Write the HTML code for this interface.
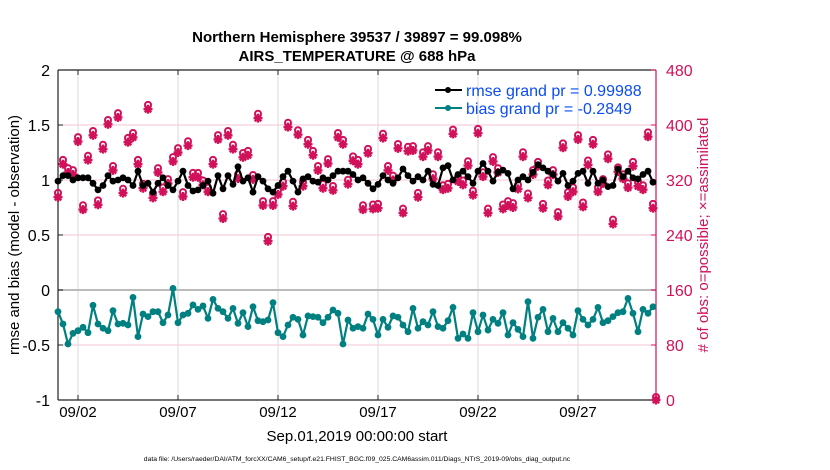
<!DOCTYPE html>
<html><head><meta charset="utf-8">
<style>
body{margin:0;background:#fff;}
svg{display:block;font-family:"Liberation Sans",Arial,sans-serif;}
</style></head>
<body>
<svg id="chart" width="830" height="470" viewBox="0 0 830 470" xmlns="http://www.w3.org/2000/svg">
<rect width="830" height="470" fill="#fff"/>
<g id="grid"></g>
<g id="axes"></g>
<g id="series"></g>
<text x="357" y="42" text-anchor="middle" font-size="15" font-weight="bold">Northern Hemisphere 39537 / 39897 = 99.098%</text>
<text x="357" y="61" text-anchor="middle" font-size="15" font-weight="bold">AIRS_TEMPERATURE @ 688 hPa</text>
<text x="357" y="441" text-anchor="middle" font-size="15">Sep.01,2019 00:00:00 start</text>
<text x="357" y="461" text-anchor="middle" font-size="6.8">data file: /Users/raeder/DAI/ATM_forcXX/CAM6_setup/f.e21.FHIST_BGC.f09_025.CAM6assim.011/Diags_NTrS_2019-09/obs_diag_output.nc</text>
<text transform="translate(19,235) rotate(-90)" text-anchor="middle" font-size="15">rmse and bias (model - observation)</text>
<text transform="translate(708,235) rotate(-90)" text-anchor="middle" font-size="15" fill="#d1115a"># of obs: o=possible; ×=assimilated</text>
<g>
  <line x1="435" y1="90" x2="462" y2="90" stroke="#000" stroke-width="2"/>
  <circle cx="448" cy="90" r="3" fill="#000"/>
  <text x="466" y="96" font-size="16" fill="#0a4cf5">rmse grand pr = 0.99988</text>
  <line x1="435" y1="108" x2="462" y2="108" stroke="#008080" stroke-width="2"/>
  <circle cx="448" cy="108" r="3" fill="#008080"/>
  <text x="466" y="114" font-size="16" fill="#0a4cf5">bias grand pr = -0.2849</text>
</g>
</svg>
<script>
const rmse=[0.99,1.04,1.04,1.00,1.02,1.02,1.02,0.97,0.91,0.95,1.04,0.99,1.00,1.02,1.00,0.95,1.08,0.95,0.97,0.89,0.97,1.02,0.95,0.91,0.99,1.08,0.95,0.90,0.91,0.95,0.99,
0.88,1.04,0.92,1.04,0.96,1.12,0.99,1.02,0.89,1.03,0.99,0.92,0.89,0.95,1.03,1.08,0.99,0.89,1.01,1.03,0.99,0.98,1.02,1.00,1.04,1.08,1.08,1.08,1.05,1.00,
1.02,0.97,0.92,0.96,1.04,1.00,0.97,1.02,1.10,1.04,0.99,1.03,1.00,1.08,0.96,0.95,1.11,1.13,1.00,1.05,1.08,1.03,0.97,1.08,1.15,1.08,0.99,1.07,1.09,1.06,
0.92,1.00,1.03,1.00,1.07,1.14,1.11,1.08,1.05,0.99,1.06,0.95,0.99,1.06,1.08,0.97,1.08,0.97,1.00,0.94,0.95,1.10,1.03,1.08,1.02,1.01,1.05,1.08,0.98];
const bias=[-0.197,-0.309,-0.491,-0.394,-0.370,-0.339,-0.388,-0.139,-0.309,-0.348,-0.370,-0.188,-0.309,-0.303,-0.318,-0.067,-0.424,-0.218,-0.242,-0.197,-0.197,-0.297,-0.227,0.015,-0.297,-0.227,-0.212,-0.136,-0.176,-0.145,-0.258,-0.085,-0.167,-0.197,-0.258,-0.167,-0.303,-0.206,-0.333,-0.152,-0.279,-0.288,-0.273,-0.115,-0.388,-0.424,-0.318,-0.248,-0.267,-0.409,-0.236,-0.242,-0.248,-0.297,-0.248,-0.182,-0.212,-0.491,-0.273,-0.348,
-0.333,-0.348,-0.218,-0.267,-0.409,-0.267,-0.339,-0.236,-0.248,-0.318,-0.379,-0.167,-0.348,-0.288,-0.318,-0.197,-0.333,-0.348,-0.279,-0.158,-0.439,-0.400,-0.439,-0.206,-0.379,-0.227,-0.364,-0.267,-0.303,-0.206,-0.409,-0.297,-0.358,-0.424,-0.106,-0.439,-0.248,-0.176,-0.379,-0.258,-0.379,-0.297,-0.348,-0.409,-0.188,-0.267,-0.318,-0.267,-0.158,-0.297,-0.279,-0.242,-0.206,-0.197,-0.076,-0.212,-0.379,-0.176,-0.212,-0.152];
const possible=[297,345,333,330,378,279,351,387,286,367,403,336,413,303,377,384,345,310,425,296,333,305,317,349,362,298,372,326,326,315,305,
345,381,266,387,367,324,355,358,323,412,285,233,285,301,313,399,284,388,313,374,358,336,310,346,307,384,374,316,350,345,
279,361,280,281,383,336,322,368,274,364,365,297,356,365,324,356,308,310,389,320,315,343,300,390,327,274,349,333,280,285,
282,309,356,296,330,342,281,315,330,269,369,298,305,381,283,344,374,305,317,353,258,334,324,311,342,313,308,385,281,0];
const assimilated=[295,343,331,328,376,277,349,385,284,365,401,334,411,301,375,382,343,308,423,294,331,303,315,347,360,296,370,324,324,313,303,
343,379,264,385,365,322,353,356,321,410,283,231,283,299,311,397,282,386,311,372,356,334,308,344,305,382,372,314,348,343,
277,359,278,279,381,334,320,366,272,362,363,295,354,363,322,354,306,308,387,318,313,341,298,388,325,272,347,331,278,283,
280,307,354,294,328,340,279,313,328,267,367,296,303,379,281,342,372,303,315,351,256,332,322,309,340,311,306,383,279,0];
const leftTicks=[-1,-0.5,0,0.5,1,1.5,2];
const leftTickLabels=["-1","-0.5","0","0.5","1","1.5","2"];
const rightTicks=[0,80,160,240,320,400,480];
const dayTicks=[1,6,11,16,21,26];
const dayLabels=["09/02","09/07","09/12","09/17","09/22","09/27"];
const stepDays=0.25;

const NS="http://www.w3.org/2000/svg";
const X0=58,X1=656,Y0=70,Y1=400;
function xs(t){return Math.min(X1,X0+t*20);}
function yl(v){return Y1-(v+1)*(Y1-Y0)/3;}
function yr(c){return Y1-c*(Y1-Y0)/480;}
function mk(tag,attrs,parent){const e=document.createElementNS(NS,tag);for(const k in attrs)e.setAttribute(k,attrs[k]);parent.appendChild(e);return e;}
const grid=document.getElementById('grid'),axes=document.getElementById('axes'),ser=document.getElementById('series');
const PINK="#d1115a";
rightTicks.forEach(c=>{ if(c>0&&c<480&&c!==160){const l=mk('line',{x1:X0,x2:X1,y1:yr(c),y2:yr(c),stroke:'#f4c6d6','stroke-width':1},grid);

}});
dayTicks.forEach((d,i)=>{const l=mk('line',{x1:xs(d),x2:xs(d),y1:Y0,y2:Y1,stroke:'#d8d8d8','stroke-width':1},grid);


const tl=mk('line',{x1:xs(d),x2:xs(d),y1:Y0,y2:Y0+5,stroke:'#222'},axes);


const bl=mk('line',{x1:xs(d),x2:xs(d),y1:Y1,y2:Y1-5,stroke:'#222'},axes);


const t=mk('text',{x:xs(d),y:417,'text-anchor':'middle','font-size':15},axes);t.textContent=dayLabels[i];

});
const zl=mk('line',{x1:X0,x2:X1,y1:yl(0),y2:yl(0),stroke:'#bbb','stroke-width':2},grid);


[[X0,Y0,X1,Y0,'#222'],[X0,Y1,X1,Y1,'#222'],[X0,Y0,X0,Y1,'#222'],[X1,Y0,X1,Y1,PINK]].forEach(a=>{const l=mk('line',{x1:a[0],y1:a[1],x2:a[2],y2:a[3],stroke:a[4],'stroke-width':1.2},axes);

});
leftTicks.forEach((v,i)=>{const l=mk('line',{x1:X0,x2:X0+5,y1:yl(v),y2:yl(v),stroke:'#222'},axes);


const t=mk('text',{x:50,y:yl(v)+6,'text-anchor':'end','font-size':16},axes);t.textContent=leftTickLabels[i];

});
rightTicks.forEach(c=>{const l=mk('line',{x1:X1,x2:X1-5,y1:yr(c),y2:yr(c),stroke:PINK},axes);


const t=mk('text',{x:666,y:yr(c)+6,'font-size':16,fill:PINK},axes);t.textContent=String(c);

});
possible.forEach((c,i)=>{const x=xs(i*stepDays),y=yr(c)-3;
const o=mk('circle',{cx:x,cy:y,r:3,fill:'none',stroke:PINK,'stroke-width':2},ser);

});
assimilated.forEach((c,i)=>{const x=xs(i*stepDays),y=yr(c);
const g=mk('g',{stroke:PINK,'stroke-width':2.4},ser);


mk('line',{x1:x-4.5,x2:x+4.5,y1:y,y2:y},g);mk('line',{x1:x,x2:x,y1:y-4.5,y2:y+4.5},g);
mk('line',{x1:x-3.2,x2:x+3.2,y1:y-3.2,y2:y+3.2},g);mk('line',{x1:x-3.2,x2:x+3.2,y1:y+3.2,y2:y-3.2},g);});
function drawSeries(vals,color,name){
 const pts=vals.map((v,i)=>xs(i*stepDays)+','+yl(v)).join(' ');
 const pl=mk('polyline',{points:pts,fill:'none',stroke:color,'stroke-width':2.2},ser);
 
 
 vals.forEach((v,i)=>{const c=mk('circle',{cx:xs(i*stepDays),cy:yl(v),r:3.4,fill:color},ser);
 
 });
}
drawSeries(rmse,'#000','rmse');
drawSeries(bias,'#008080','bias');
</script>
</body></html>
